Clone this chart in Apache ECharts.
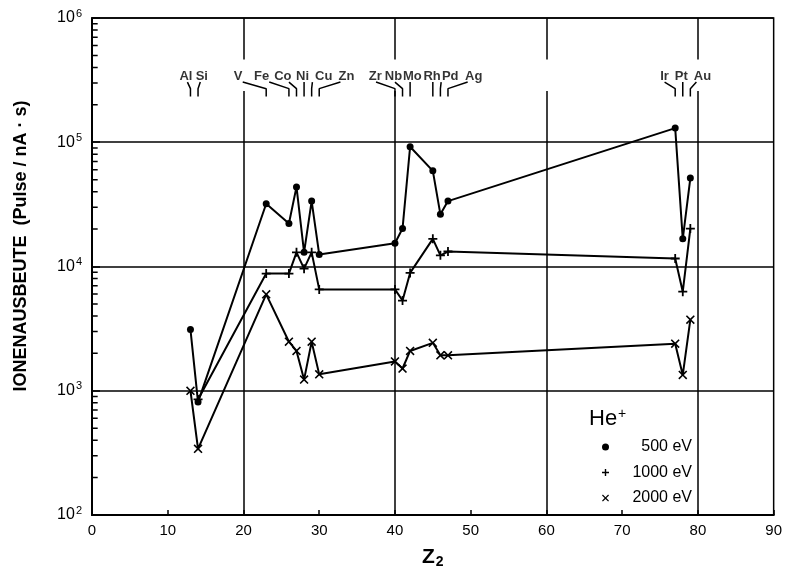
<!DOCTYPE html>
<html><head><meta charset="utf-8">
<script src="https://cdn.jsdelivr.net/npm/echarts@6/dist/echarts.min.js"></script>
<style>html,body{margin:0;padding:0;background:#fff}#c{width:785px;height:574px}</style>
</head><body><div id="c"></div>
<script>
// ---- data ----
const elements = ['Al','Si','V','Fe','Co','Ni','Cu','Zn','Zr','Nb','Mo','Rh','Pd','Ag','Ir','Pt','Au'];
const z2 =       [13, 14, 23, 26, 27, 28, 29, 30, 40, 41, 42, 45, 46, 47, 77, 78, 79];
const labelZ =   [12.4,14.5,19.3,22.4,25.2,27.8,30.6,33.6,37.4,39.8,42.3,44.9,47.3,50.4,75.6,77.8,80.6];
const connectZ = [12.6,14.3,19.9,23.4,26.0,28.0,29.1,32.8,37.5,40.0,42.0,45.0,46.1,49.6,75.6,78.0,79.8];
const ion500  = [3110, 811, 32000, 22200, 43700, 13000, 33600, 12500, 15400, 20200, 92000, 58900, 26300, 33600, 130000, 16700, 51500];
const ion1000 = [null, 851, 8770, 8770, 13000, 9610, 13000, 6540, 6540, 5320, 8880, 16700, 12300, 13200, 11600, 6270, 20200];
const ion2000 = [1000, 341, 5970, 2480, 2090, 1230, 2480, 1355, 1720, 1510, 2090, 2430, 1930, 1930, 2390, 1340, 3730];
const seriesNames = ['500 eV','1000 eV','2000 eV'];
const xTicks = [0,10,20,30,40,50,60,70,80,90];
const yDecades = [1e2,1e3,1e4,1e5,1e6];
const gridZ = [20,40,60,80];
// label band levels (value units)
const labelLevel = 340000, connTop = 305000, connElbow = 270000, connBottom = 233000;
const gapLow = 258000, gapHigh = 463000;

const plusPath = 'path://M-0.8,-4H0.8V-0.8H4V0.8H0.8V4H-0.8V0.8H-4V-0.8H-0.8Z';
const crossPath = 'path://M-4,-3L-3,-4L0,-1L3,-4L4,-3L1,0L4,3L3,4L0,1L-3,4L-4,3L-1,0Z';

const pairs = (arr) => z2.map((z,i) => arr[i] == null ? null : [z, arr[i]]).filter(d => d);

// connectors
const connData = [];
elements.forEach((e,i) => {
  connData.push([connectZ[i], connTop], [z2[i], connElbow], [z2[i], connBottom], [z2[i], '-']);
});
// gridlines with gap
const gridMarks = [];
gridZ.forEach(g => {
  gridMarks.push([{coord:[g, yDecades[0]]},{coord:[g, gapLow]}]);
  gridMarks.push([{coord:[g, gapHigh]},{coord:[g, yDecades[yDecades.length-1]]}]);
});
// log minor ticks on the left axis
const minorData = [];
yDecades.slice(0,-1).forEach(d => {
  for (let k = 2; k <= 9; k++) minorData.push([0, d*k], [0.75, d*k], [0.75, '-']);
});

const chart = echarts.init(document.getElementById('c'));
const FONT = 'Liberation Sans, Arial, sans-serif';
chart.setOption({
  animation: false,
  grid: {left: 92, right: 7, top: 18, bottom: 53, show: true, borderColor: '#000', borderWidth: 1.5},
  xAxis: {
    type: 'value', min: 0, max: 90, interval: 10,
    name: '{z|Z}{s|2}', nameLocation: 'middle', nameGap: 30,
    nameTextStyle: {rich: {z: {fontSize: 21, fontWeight: 'bold', fontFamily: FONT, color: '#000'}, s: {fontSize: 14, fontWeight: 'bold', fontFamily: FONT, color: '#000', padding: [10,0,0,1]}}},
    axisLine: {lineStyle: {color: '#000', width: 2}},
    axisTick: {inside: true, length: 5, lineStyle: {color: '#000', width: 1.5}},
    axisLabel: {color: '#000', fontSize: 15, fontFamily: FONT, margin: 8},
    splitLine: {show: false}
  },
  yAxis: {
    type: 'log', logBase: 10, min: 100, max: 1e6,
    axisLine: {show: true, lineStyle: {color: '#000', width: 2}},
    axisTick: {show: true, inside: true, length: 8, lineStyle: {color: '#000', width: 1.5}},
    axisLabel: {
      margin: 10,
      formatter: v => '{b|10}{s|' + Math.round(Math.log10(v)) + '}',
      rich: {b: {fontSize: 16, fontFamily: FONT, color: '#000'}, s: {fontSize: 11, fontFamily: FONT, color: '#000', padding: [0,0,9,1]}}
    },
    splitLine: {show: true, lineStyle: {color: '#000', width: 1.5}}
  },
  legend: {
    orient: 'vertical', left: 597, top: 434, itemGap: 9.5, itemWidth: 7, itemHeight: 7,
    data: [{name: seriesNames[0], icon: 'circle'}, {name: seriesNames[1], icon: plusPath}, {name: seriesNames[2], icon: crossPath}],
    formatter: n => '{r|' + n + '}',
    textStyle: {rich: {r: {width: 78, align: 'right', fontSize: 16, fontFamily: FONT, color: '#000'}}}
  },
  graphic: [
    {type: 'text', x: 21, y: 246, rotation: Math.PI/2,
     style: {text: 'IONENAUSBEUTE  (Pulse / nA · s)', font: 'bold 18px ' + FONT, fill: '#000', textAlign: 'center', textVerticalAlign: 'middle'}},
    {type: 'text', left: 589, top: 407,
     style: {text: '{h|He}{p|+}', rich: {h: {fontSize: 22, fontFamily: FONT, fill: '#000'}, p: {fontSize: 14, fontFamily: FONT, fill: '#000', padding: [0,0,10,1]}}}}
  ],
  series: [
    {name: seriesNames[0], type: 'line', data: pairs(ion500), symbol: 'circle', symbolSize: 7,
     color: '#000', lineStyle: {width: 2, color: '#000'}, itemStyle: {color: '#000'}, z: 5,
     markLine: {silent: true, symbol: 'none', label: {show: false}, lineStyle: {color: '#000', width: 1.5, type: 'solid'}, data: gridMarks}},
    {name: seriesNames[1], type: 'line', data: pairs(ion1000), symbol: plusPath, symbolSize: 9,
     color: '#000', lineStyle: {width: 2, color: '#000'}, itemStyle: {color: '#000'}, z: 5},
    {name: seriesNames[2], type: 'line', data: pairs(ion2000), symbol: crossPath, symbolSize: 9,
     color: '#000', lineStyle: {width: 2, color: '#000'}, itemStyle: {color: '#000'}, z: 5},
    {name: 'connectors', type: 'line', data: connData, symbol: 'none', connectNulls: false,
     lineStyle: {width: 1.5, color: '#000'}, silent: true},
    {name: 'minorTicks', type: 'line', data: minorData, symbol: 'none', connectNulls: false, clip: false,
     lineStyle: {width: 1.5, color: '#000'}, silent: true},
    {name: 'labels', type: 'scatter', symbolSize: 0, silent: true,
     data: elements.map((e,i) => ({name: e, value: [labelZ[i], labelLevel]})),
     label: {show: true, position: 'inside', formatter: p => p.name, fontSize: 13, fontWeight: 'bold', fontFamily: FONT, color: '#000'}}
  ]
});
</script></body></html>
